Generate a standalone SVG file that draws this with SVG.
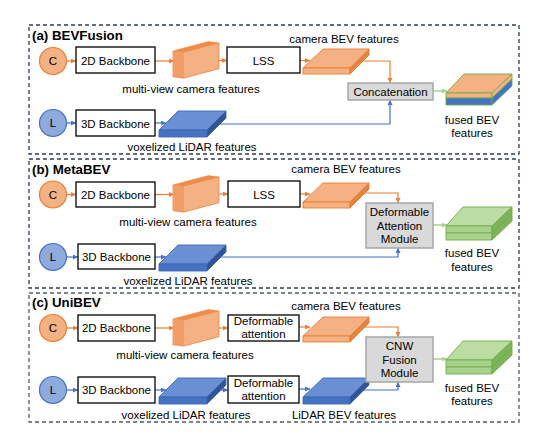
<svg xmlns="http://www.w3.org/2000/svg" width="548" height="445" viewBox="0 0 548 445">
<style>
text{font-family:"Liberation Sans",Arial,sans-serif;font-size:11.5px;fill:#000}
.c{text-anchor:middle}
.title{font-weight:bold;font-size:13.3px}
.panel{fill:none;stroke:#2F3D57;stroke-width:1.3;stroke-dasharray:4 3}
.panelc{stroke:#555b66}
.box{fill:#fff;stroke:#000;stroke-width:1.3}
.gbox{fill:#D9D9D9;stroke:#A6A6A6;stroke-width:1.5}
.cc{fill:#F4B183;stroke:#ED7D31;stroke-width:1.2}
.lc{fill:#8FAADC;stroke:#4472C4;stroke-width:1.2}
.ol{fill:none;stroke:#ED7D31;stroke-width:1.2}
.bl{fill:none;stroke:#4472C4;stroke-width:1.2}
.gl{fill:none;stroke:#A9D18E;stroke-width:1.5}
.st{fill:#F4B183;stroke:#ED7D31;stroke-width:0.7}
.o-top{fill:#F4B183;stroke:#ED7D31;stroke-width:0.9}
.o-side{fill:#E08543;stroke:#ED7D31;stroke-width:0.9}
.b-top{fill:#6B8FD3;stroke:#3F69B5;stroke-width:0.9}
.b-front{fill:#4472C4;stroke:#3F69B5;stroke-width:0.9}
.b-side{fill:#2F5597;stroke:#3F69B5;stroke-width:0.9}
.g-top{fill:#BBDCA3;stroke:#70AD47;stroke-width:0.9}
.g-front{fill:#A9D18E;stroke:#70AD47;stroke-width:0.9}
.g-side{fill:#7DB35A;stroke:#70AD47;stroke-width:0.9}
.f-o{fill:#F4B183;stroke:#70AD47;stroke-width:0.9}
.f-b{fill:#4472C4;stroke:#70AD47;stroke-width:0.9}
</style>
<defs>
<marker id="ao" viewBox="0 0 6 6" refX="6" refY="3" markerWidth="5" markerHeight="5" markerUnits="userSpaceOnUse" orient="auto"><path d="M0,0 L6,3 L0,6 z" fill="#ED7D31"/></marker>
<marker id="ab" viewBox="0 0 6 6" refX="6" refY="3" markerWidth="5" markerHeight="5" markerUnits="userSpaceOnUse" orient="auto"><path d="M0,0 L6,3 L0,6 z" fill="#4472C4"/></marker>
<marker id="ag" viewBox="0 0 6 6" refX="6" refY="3" markerWidth="5" markerHeight="5" markerUnits="userSpaceOnUse" orient="auto"><path d="M0,0 L6,3 L0,6 z" fill="#A9D18E"/></marker>
<g id="stack">
<polygon class="st" points="0,9 36,-0.5 36,25.5 0,35"/>
<polygon class="st" points="2,9.25 38,-0.25 38,25.75 2,35.25"/>
<polygon class="st" points="4,9.5 40,0 40,26 4,35.5"/>
<polygon class="st" points="6,9.75 42,0.25 42,26.25 6,35.75"/>
<polygon class="st" points="8,10 44,0.5 44,26.5 8,36"/>
<polygon class="st" points="10,10.25 46,0.75 46,26.75 10,36.25"/>
</g>
<g id="camslab">
<polygon class="o-top" points="0,19 47,19 66,0 20,0"/>
<polygon class="o-top" points="0,19 47,19 47,25 0,25"/>
<polygon class="o-side" points="47,19 66,0 66,6 47,25"/>
</g>
<g id="lidslab">
<polygon class="b-top" points="0,19 48,19 67,0 19,0"/>
<polygon class="b-front" points="0,19 48,19 48,26 0,26"/>
<polygon class="b-side" points="48,19 67,0 67,7 48,26"/>
</g>
<g id="lidbev">
<polygon class="b-top" points="0,19 47,19 66,0 20,0"/>
<polygon class="b-front" points="0,19 47,19 47,26 0,26"/>
<polygon class="b-side" points="47,19 66,0 66,7 47,26"/>
</g>
<g id="greenslab">
<polygon class="g-top" points="0,19 46,19 66,0 17,0"/>
<polygon class="g-front" points="0,19 46,19 46,26 0,26"/>
<polygon class="g-front" points="0,26 46,26 46,33 0,33"/>
<polygon class="g-side" points="46,19 66,0 66,14 46,33"/>
<line x1="46" y1="26" x2="66" y2="7" stroke="#70AD47" stroke-width="0.9"/>
</g>
</defs>

<!-- panels -->
<g id="panels">
<rect class="panel" x="29" y="25" width="490" height="129"/>
<rect class="panel" x="29" y="159" width="490" height="129"/>
<rect class="panel panelc" x="29" y="293" width="490" height="129"/>
<text class="title" x="32" y="39.5">(a) BEVFusion</text>
<text class="title" x="32" y="173.5">(b) MetaBEV</text>
<text class="title" x="32" y="307">(c) UniBEV</text>
</g>

<!-- connectors -->
<g id="connectors">
<!-- (a) -->
<line class="ol" x1="67" y1="61" x2="76" y2="61" marker-end="url(#ao)"/>
<line class="ol" x1="155" y1="61" x2="174" y2="61" marker-end="url(#ao)"/>
<line class="ol" x1="219" y1="60.5" x2="227" y2="60.5" marker-end="url(#ao)"/>
<line class="ol" x1="300" y1="60.5" x2="310" y2="60.5" marker-end="url(#ao)"/>
<polyline class="ol" points="362,61 390,61 390,83" marker-end="url(#ao)"/>
<line class="bl" x1="67" y1="123" x2="76" y2="123" marker-end="url(#ab)"/>
<line class="bl" x1="155" y1="123" x2="166" y2="123" marker-end="url(#ab)"/>
<polyline class="bl" points="218,124 390,124 390,100" marker-end="url(#ab)"/>
<line class="gl" x1="433" y1="91" x2="447" y2="91" marker-end="url(#ag)"/>
<!-- (b) -->
<line class="ol" x1="67" y1="194.5" x2="76" y2="194.5" marker-end="url(#ao)"/>
<line class="ol" x1="155" y1="194.5" x2="174" y2="194.5" marker-end="url(#ao)"/>
<line class="ol" x1="219" y1="194" x2="228" y2="194" marker-end="url(#ao)"/>
<line class="ol" x1="300" y1="194" x2="310" y2="194" marker-end="url(#ao)"/>
<polyline class="ol" points="362,193 398,193 398,203" marker-end="url(#ao)"/>
<line class="bl" x1="67" y1="257" x2="78" y2="257" marker-end="url(#ab)"/>
<line class="bl" x1="155" y1="257" x2="166" y2="257" marker-end="url(#ab)"/>
<polyline class="bl" points="218,257 398,257 398,248" marker-end="url(#ab)"/>
<line class="gl" x1="433" y1="225" x2="447" y2="225" marker-end="url(#ag)"/>
<!-- (c) -->
<line class="ol" x1="67" y1="328" x2="78" y2="328" marker-end="url(#ao)"/>
<line class="ol" x1="155" y1="328" x2="174" y2="328" marker-end="url(#ao)"/>
<line class="ol" x1="219" y1="328" x2="228" y2="328" marker-end="url(#ao)"/>
<line class="ol" x1="299" y1="327" x2="310" y2="327" marker-end="url(#ao)"/>
<polyline class="ol" points="362,327 398,327 398,337" marker-end="url(#ao)"/>
<line class="bl" x1="67" y1="390" x2="78" y2="390" marker-end="url(#ab)"/>
<line class="bl" x1="155" y1="390" x2="166" y2="390" marker-end="url(#ab)"/>
<line class="bl" x1="220" y1="390" x2="228" y2="390" marker-end="url(#ab)"/>
<line class="bl" x1="299" y1="389" x2="310" y2="389" marker-end="url(#ab)"/>
<polyline class="bl" points="362,390 398,390 398,382" marker-end="url(#ab)"/>
<line class="gl" x1="433" y1="359" x2="447" y2="359" marker-end="url(#ag)"/>
</g>

<!-- panel (a) nodes -->
<g id="a-cam"><circle class="cc" cx="53" cy="61" r="13.5"/><text class="c" x="53" y="65">C</text></g>
<g id="a-2d"><rect class="box" x="76" y="47" width="79" height="26"/><text class="c" x="115.5" y="64.5">2D Backbone</text></g>
<g id="a-mvf"><use href="#stack" x="173" y="42"/><text class="c" x="191" y="92.5">multi-view camera features</text></g>
<g id="a-lss"><rect class="box" x="227" y="47" width="73" height="26"/><text class="c" x="263.5" y="64.5">LSS</text></g>
<g id="a-cbev"><use href="#camslab" x="303" y="49"/><text class="c" x="344" y="42.5">camera BEV features</text></g>
<g id="a-lidar"><circle class="lc" cx="53" cy="123" r="13.5"/><text class="c" x="53" y="127">L</text></g>
<g id="a-3d"><rect class="box" x="76" y="110" width="79" height="26"/><text class="c" x="115.5" y="127.5">3D Backbone</text></g>
<g id="a-vox"><use href="#lidslab" x="159" y="111"/><text class="c" x="192" y="150.5">voxelized LiDAR features</text></g>
<g id="a-concat"><rect class="gbox" x="348" y="83" width="85" height="17"/><text class="c" x="390.5" y="95.5">Concatenation</text></g>
<g id="a-fused">
<polygon class="f-o" points="446,93 492,93 512,74 464,74"/>
<polygon class="f-o" points="446,93 492,93 492,98 446,98"/>
<polygon class="f-b" points="446,98 492,98 492,105 446,105"/>
<polygon class="f-o" points="492,93 512,74 512,79 492,98"/>
<polygon class="f-b" points="492,98 512,79 512,86 492,105"/>
<text class="c" x="472" y="124">fused BEV</text><text class="c" x="472" y="137">features</text>
</g>

<!-- panel (b) nodes -->
<g id="b-cam"><circle class="cc" cx="53" cy="194.5" r="13.5"/><text class="c" x="53" y="198.5">C</text></g>
<g id="b-2d"><rect class="box" x="76" y="182" width="79" height="25"/><text class="c" x="115.5" y="198.5">2D Backbone</text></g>
<g id="b-mvf"><use href="#stack" x="173" y="176"/><text class="c" x="188" y="225.5">multi-view camera features</text></g>
<g id="b-lss"><rect class="box" x="228" y="181" width="72" height="26"/><text class="c" x="264" y="198.5">LSS</text></g>
<g id="b-cbev"><use href="#camslab" x="303" y="183"/><text class="c" x="346" y="173">camera BEV features</text></g>
<g id="b-lidar"><circle class="lc" cx="53" cy="257" r="13.5"/><text class="c" x="53" y="261">L</text></g>
<g id="b-3d"><rect class="box" x="78" y="244" width="77" height="25"/><text class="c" x="116.5" y="260.5">3D Backbone</text></g>
<g id="b-vox"><use href="#lidslab" x="159" y="245"/><text class="c" x="188" y="284.5">voxelized LiDAR features</text></g>
<g id="b-dam"><rect class="gbox" x="366" y="203" width="67" height="45"/><text class="c" x="399.5" y="216">Deformable</text><text class="c" x="399.5" y="229.5">Attention</text><text class="c" x="399.5" y="243">Module</text></g>
<g id="b-fused"><use href="#greenslab" x="446" y="207"/><text class="c" x="472" y="257">fused BEV</text><text class="c" x="472" y="270.5">features</text></g>

<!-- panel (c) nodes -->
<g id="c-cam"><circle class="cc" cx="53" cy="328" r="13.5"/><text class="c" x="53" y="332">C</text></g>
<g id="c-2d"><rect class="box" x="78" y="315" width="77" height="26"/><text class="c" x="116.5" y="332">2D Backbone</text></g>
<g id="c-mvf"><use href="#stack" x="173" y="310"/><text class="c" x="185" y="359">multi-view camera features</text></g>
<g id="c-defc"><rect class="box" x="228" y="315" width="71" height="26"/><text class="c" x="263.5" y="325">Deformable</text><text class="c" x="263.5" y="338">attention</text></g>
<g id="c-cbev"><use href="#camslab" x="303" y="317"/><text class="c" x="346" y="309.5">camera BEV features</text></g>
<g id="c-lidar"><circle class="lc" cx="53" cy="390" r="13.5"/><text class="c" x="53" y="394">L</text></g>
<g id="c-3d"><rect class="box" x="78" y="377" width="77" height="26"/><text class="c" x="116.5" y="394">3D Backbone</text></g>
<g id="c-vox"><use href="#lidslab" x="159" y="378"/><text class="c" x="186" y="419">voxelized LiDAR features</text></g>
<g id="c-defl"><rect class="box" x="228" y="376" width="71" height="27"/><text class="c" x="263.5" y="387">Deformable</text><text class="c" x="263.5" y="400">attention</text></g>
<g id="c-lbev"><use href="#lidbev" x="303" y="378"/><text class="c" x="344" y="419">LiDAR BEV features</text></g>
<g id="c-cnw"><rect class="gbox" x="366" y="337" width="67" height="45"/><text class="c" x="399.5" y="350">CNW</text><text class="c" x="399.5" y="363.5">Fusion</text><text class="c" x="399.5" y="377">Module</text></g>
<g id="c-fused"><use href="#greenslab" x="446" y="341"/><text class="c" x="472" y="391.5">fused BEV</text><text class="c" x="472" y="405">features</text></g>
</svg>
